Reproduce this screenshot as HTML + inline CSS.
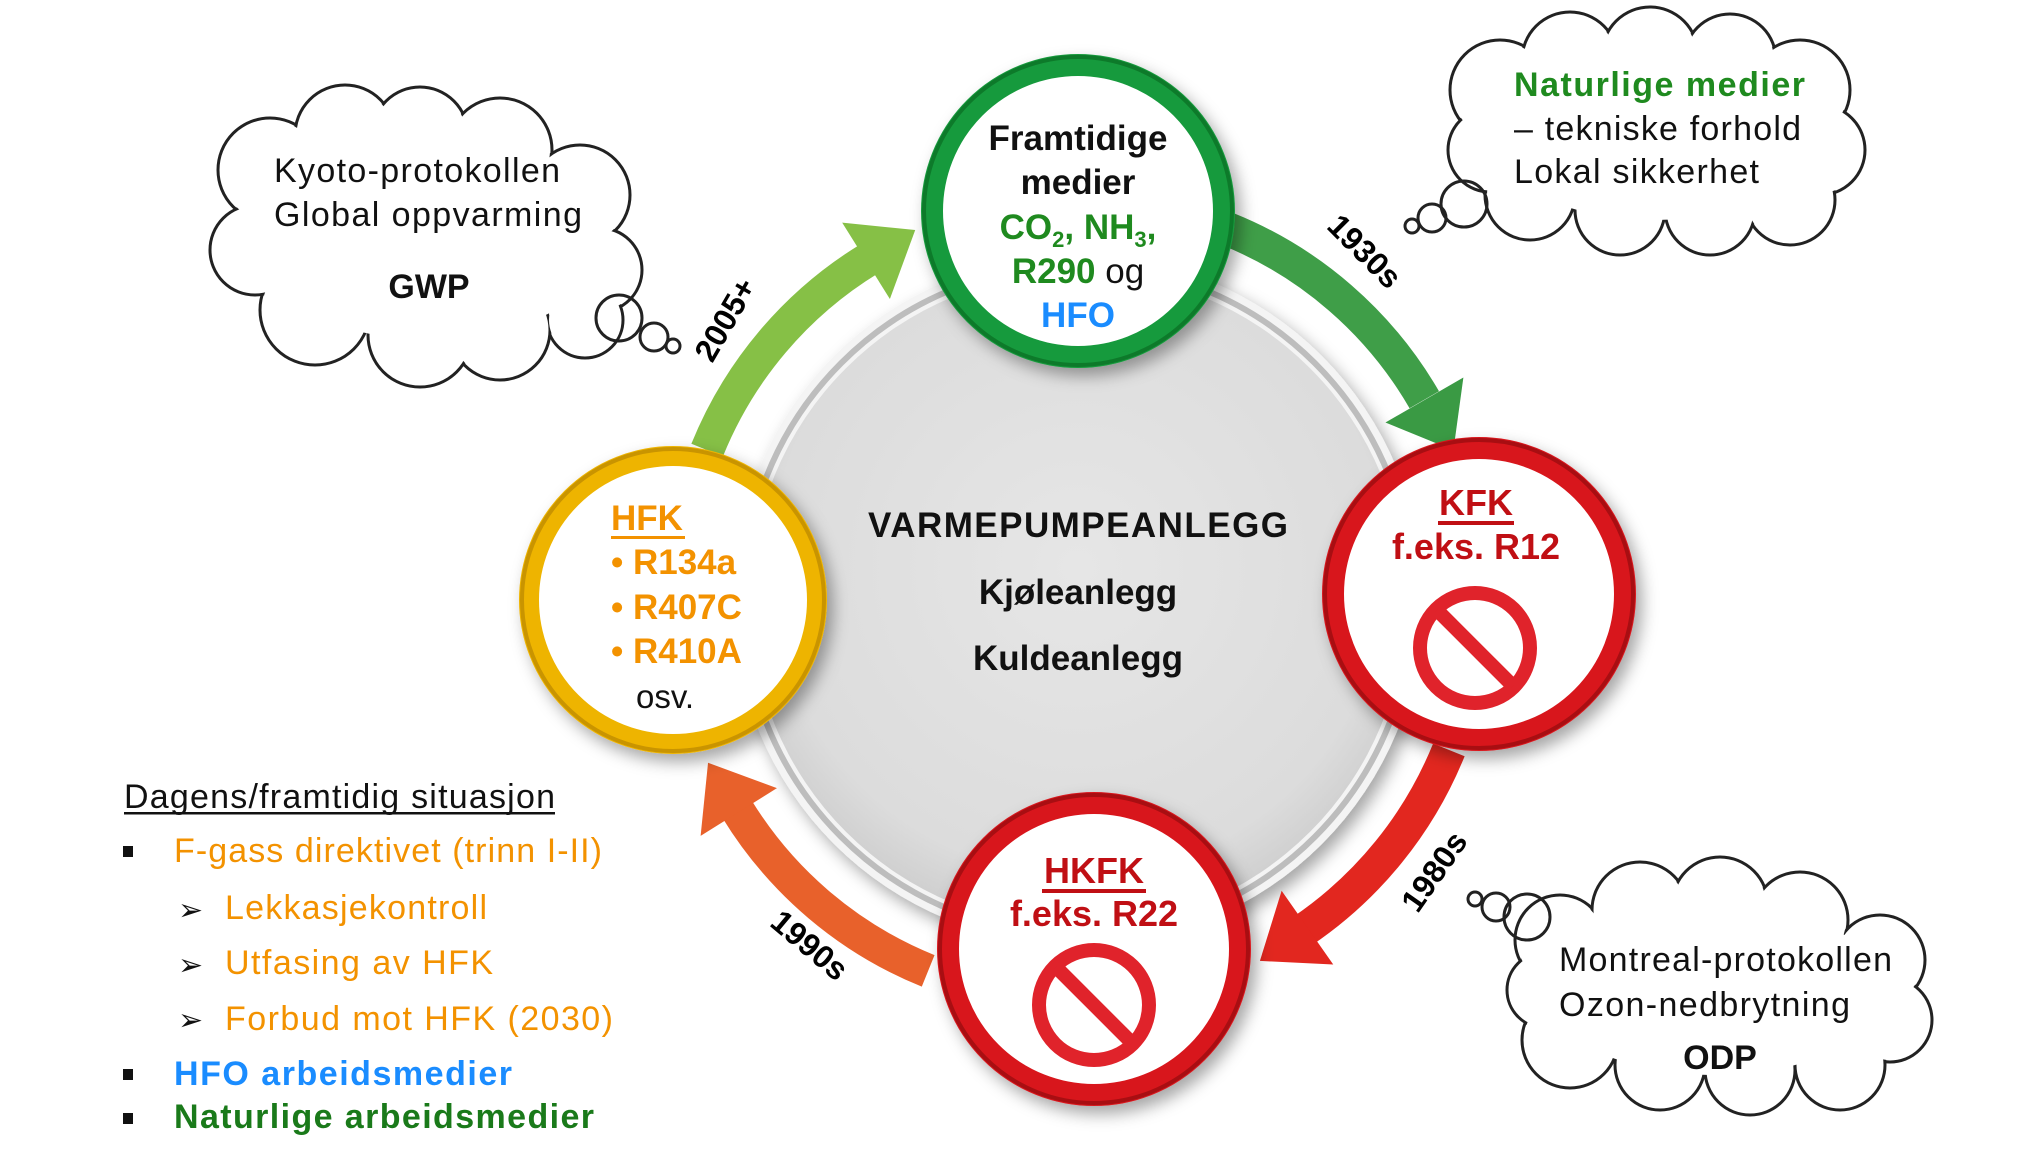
<!DOCTYPE html>
<html><head><meta charset="utf-8"><style>
html,body{margin:0;padding:0;background:#fff;}
svg{display:block;}
text{font-family:"Liberation Sans",Arial,sans-serif;}
</style></head><body>
<svg width="2042" height="1149" viewBox="0 0 2042 1149" xmlns="http://www.w3.org/2000/svg">
<defs>
<radialGradient id="gbig" cx="50%" cy="45%" r="55%">
<stop offset="0" stop-color="#e6e6e6"/><stop offset="0.85" stop-color="#dcdcdc"/><stop offset="1" stop-color="#cfcfcf"/>
</radialGradient>
<filter id="sh" x="-20%" y="-20%" width="140%" height="140%"><feDropShadow dx="6" dy="8" stdDeviation="8" flood-color="#000" flood-opacity="0.35"/></filter>
</defs>

<circle cx="1078" cy="600" r="345" fill="#f4f4f4" filter="url(#sh)"/>
<circle cx="1078" cy="600" r="335" fill="none" stroke="#bdbdbd" stroke-width="6"/>
<circle cx="1078" cy="600" r="328" fill="url(#gbig)"/>

<!-- arrows (circle r=400, circumference 2513) -->
<g transform="translate(1078,600)">
<circle r="400" fill="none" stroke="#3f9e48" stroke-width="34" stroke-dasharray="265 2400" transform="rotate(-68)"/>
<polygon points="355,0 445,0 400,58" fill="#3a9a44" transform="rotate(-30)"/>
<circle r="400" fill="none" stroke="#e2271f" stroke-width="34" stroke-dasharray="237 2400" transform="rotate(22)"/>
<polygon points="355,0 445,0 400,58" fill="#e2271f" transform="rotate(55)"/>
<circle r="400" fill="none" stroke="#e8612b" stroke-width="34" stroke-dasharray="255 2400" transform="rotate(112)"/>
<polygon points="355,0 445,0 400,58" fill="#e8612b" transform="rotate(148)"/>
<circle r="400" fill="none" stroke="#86c046" stroke-width="34" stroke-dasharray="255 2400" transform="rotate(202)"/>
<polygon points="355,0 445,0 400,58" fill="#86c046" transform="rotate(238)"/>
</g>

<text x="1364" y="262" font-size="32" font-weight="bold" text-anchor="middle" transform="rotate(45 1364 252)">1930s</text>
<text x="1435" y="882" font-size="32" font-weight="bold" text-anchor="middle" transform="rotate(-55 1435 872)">1980s</text>
<text x="809" y="956" font-size="32" font-weight="bold" text-anchor="middle" transform="rotate(40 809 946)">1990s</text>
<text x="726" y="330" font-size="32" font-weight="bold" text-anchor="middle" transform="rotate(-60 726 320)">2005+</text>

<g filter="url(#sh)">
<circle cx="1078" cy="211" r="146" fill="#fff" stroke="#179a3c" stroke-width="22"/>
<circle cx="1479" cy="594" r="146" fill="#fff" stroke="#d8141b" stroke-width="22"/>
<circle cx="1094" cy="949" r="146" fill="#fff" stroke="#d8141b" stroke-width="22"/>
<circle cx="673" cy="600" r="144" fill="#fff" stroke="#eeb400" stroke-width="20"/>
</g>
<circle cx="1078" cy="211" r="154" fill="none" stroke="#0d7a2a" stroke-width="4"/>
<circle cx="1479" cy="594" r="154" fill="none" stroke="#a80e12" stroke-width="4"/>
<circle cx="1094" cy="949" r="154" fill="none" stroke="#a80e12" stroke-width="4"/>
<circle cx="673" cy="600" r="151" fill="none" stroke="#c99400" stroke-width="4"/>

<g font-size="35" font-weight="bold" text-anchor="middle">
<text x="1078" y="150" fill="#111">Framtidige</text>
<text x="1078" y="194" fill="#111">medier</text>
<text x="1078" y="239" fill="#1f8a1f">CO<tspan font-size="22" dy="8">2</tspan><tspan dy="-8">, NH</tspan><tspan font-size="22" dy="8">3</tspan><tspan dy="-8">,</tspan></text>
<text x="1078" y="283" fill="#1f8a1f">R290 <tspan fill="#111" font-weight="normal">og</tspan></text>
<text x="1078" y="327" fill="#1a8cff">HFO</text>
</g>

<g font-size="36" font-weight="bold" fill="#c00f14" text-anchor="middle">
<text x="1476" y="515">KFK</text>
<text x="1476" y="559">f.eks. R12</text>
<text x="1094" y="883">HKFK</text>
<text x="1094" y="926">f.eks. R22</text>
</g>
<rect x="1438" y="521" width="76" height="4" fill="#c00f14"/>
<rect x="1042" y="889" width="104" height="4" fill="#c00f14"/>
<g fill="none" stroke="#e0232b" stroke-width="14">
<circle cx="1475" cy="648" r="55"/>
<line x1="1437" y1="610" x2="1513" y2="686"/>
<circle cx="1094" cy="1005" r="55"/>
<line x1="1056" y1="967" x2="1132" y2="1043"/>
</g>

<g font-size="35" font-weight="bold" fill="#f39200">
<text x="611" y="530">HFK</text>
<text x="611" y="574">• R134a</text>
<text x="611" y="619">• R407C</text>
<text x="611" y="663">• R410A</text>
</g>
<rect x="611" y="536" width="74" height="3" fill="#f39200"/>
<text x="636" y="708" font-size="33" fill="#111">osv.</text>

<g font-size="35" font-weight="bold" fill="#111" text-anchor="middle">
<text x="1078" y="537" textLength="420">VARMEPUMPEANLEGG</text>
<text x="1078" y="604">Kjøleanlegg</text>
<text x="1078" y="670">Kuldeanlegg</text>
</g>

<g stroke="#222" stroke-width="3" fill="#fff">
<circle cx="270" cy="170" r="52"/><circle cx="345" cy="135" r="50"/><circle cx="420" cy="135" r="48"/><circle cx="500" cy="150" r="52"/>
<circle cx="580" cy="195" r="50"/><circle cx="600" cy="270" r="42"/><circle cx="585" cy="320" r="38"/>
<circle cx="500" cy="330" r="50"/><circle cx="420" cy="335" r="52"/><circle cx="315" cy="310" r="55"/>
<circle cx="255" cy="250" r="45"/>
</g>
<g fill="#fff">
<circle cx="270" cy="170" r="50"/><circle cx="345" cy="135" r="48"/><circle cx="420" cy="135" r="46"/><circle cx="500" cy="150" r="50"/>
<circle cx="580" cy="195" r="48"/><circle cx="600" cy="270" r="40"/><circle cx="585" cy="320" r="36"/>
<circle cx="500" cy="330" r="48"/><circle cx="420" cy="335" r="50"/><circle cx="315" cy="310" r="53"/>
<circle cx="255" cy="250" r="43"/>
<ellipse cx="430" cy="240" rx="175" ry="100"/>
</g>
<g fill="none" stroke="#222" stroke-width="3">
<circle cx="619" cy="318" r="23"/><circle cx="654" cy="337" r="14"/><circle cx="673" cy="346" r="7"/>
</g>
<text x="274" y="182" font-size="34" fill="#111" textLength="286">Kyoto-protokollen</text>
<text x="274" y="226" font-size="34" fill="#111" textLength="308">Global oppvarming</text>
<text x="429" y="298" font-size="34" font-weight="bold" fill="#111" text-anchor="middle">GWP</text>

<g stroke="#222" stroke-width="3" fill="#fff">
<circle cx="1500" cy="90" r="50"/><circle cx="1570" cy="60" r="48"/><circle cx="1650" cy="55" r="48"/><circle cx="1730" cy="60" r="46"/>
<circle cx="1800" cy="90" r="50"/><circle cx="1820" cy="150" r="45"/><circle cx="1790" cy="200" r="45"/>
<circle cx="1710" cy="210" r="45"/><circle cx="1620" cy="210" r="45"/><circle cx="1530" cy="195" r="45"/><circle cx="1490" cy="150" r="42"/>
</g>
<g fill="#fff">
<circle cx="1500" cy="90" r="48"/><circle cx="1570" cy="60" r="46"/><circle cx="1650" cy="55" r="46"/><circle cx="1730" cy="60" r="44"/>
<circle cx="1800" cy="90" r="48"/><circle cx="1820" cy="150" r="43"/><circle cx="1790" cy="200" r="43"/>
<circle cx="1710" cy="210" r="43"/><circle cx="1620" cy="210" r="43"/><circle cx="1530" cy="195" r="43"/><circle cx="1490" cy="150" r="40"/>
<ellipse cx="1655" cy="135" rx="165" ry="85"/>
</g>
<g fill="none" stroke="#222" stroke-width="3">
<circle cx="1464" cy="204" r="23"/><circle cx="1432" cy="218" r="14"/><circle cx="1412" cy="226" r="7"/>
</g>
<text x="1514" y="96" font-size="34" font-weight="bold" fill="#1f8a1f" textLength="291">Naturlige medier</text>
<text x="1514" y="140" font-size="34" fill="#111" textLength="287">– tekniske forhold</text>
<text x="1514" y="183" font-size="34" fill="#111" textLength="245">Lokal sikkerhet</text>

<g stroke="#222" stroke-width="3" fill="#fff">
<circle cx="1560" cy="940" r="45"/><circle cx="1640" cy="910" r="48"/><circle cx="1720" cy="905" r="48"/><circle cx="1800" cy="920" r="48"/>
<circle cx="1880" cy="960" r="45"/><circle cx="1890" cy="1020" r="42"/><circle cx="1840" cy="1065" r="45"/>
<circle cx="1750" cy="1070" r="45"/><circle cx="1660" cy="1065" r="45"/><circle cx="1570" cy="1040" r="48"/><circle cx="1545" cy="990" r="38"/>
</g>
<g fill="#fff">
<circle cx="1560" cy="940" r="43"/><circle cx="1640" cy="910" r="46"/><circle cx="1720" cy="905" r="46"/><circle cx="1800" cy="920" r="46"/>
<circle cx="1880" cy="960" r="43"/><circle cx="1890" cy="1020" r="40"/><circle cx="1840" cy="1065" r="43"/>
<circle cx="1750" cy="1070" r="43"/><circle cx="1660" cy="1065" r="43"/><circle cx="1570" cy="1040" r="46"/><circle cx="1545" cy="990" r="36"/>
<ellipse cx="1715" cy="990" rx="170" ry="85"/>
</g>
<g fill="none" stroke="#222" stroke-width="3">
<circle cx="1527" cy="917" r="23"/><circle cx="1496" cy="907" r="14"/><circle cx="1475" cy="899" r="7"/>
</g>
<text x="1559" y="971" font-size="34" fill="#111" textLength="333">Montreal-protokollen</text>
<text x="1559" y="1016" font-size="34" fill="#111" textLength="291">Ozon-nedbrytning</text>
<text x="1720" y="1069" font-size="34" font-weight="bold" fill="#111" text-anchor="middle">ODP</text>

<text x="124" y="808" font-size="34" fill="#111" textLength="431">Dagens/framtidig situasjon</text>
<rect x="124" y="812" width="431" height="2.5" fill="#111"/>
<g fill="#111">
<rect x="123" y="846" width="10" height="11"/>
<rect x="123" y="1069" width="10" height="11"/>
<rect x="123" y="1113" width="10" height="11"/>
</g>
<g font-size="30" fill="#111">
<text x="178" y="920">➢</text><text x="178" y="975">➢</text><text x="178" y="1030">➢</text>
</g>
<g font-size="34" fill="#f39200">
<text x="174" y="862" textLength="428">F-gass direktivet (trinn I-II)</text>
<text x="225" y="919" textLength="262">Lekkasjekontroll</text>
<text x="225" y="974" textLength="268">Utfasing av HFK</text>
<text x="225" y="1030" textLength="388">Forbud mot HFK (2030)</text>
</g>
<text x="174" y="1085" font-size="34" font-weight="bold" fill="#1a8cff" textLength="338">HFO arbeidsmedier</text>
<text x="174" y="1128" font-size="34" font-weight="bold" fill="#1a7a1a" textLength="420">Naturlige arbeidsmedier</text>
</svg>
</body></html>
